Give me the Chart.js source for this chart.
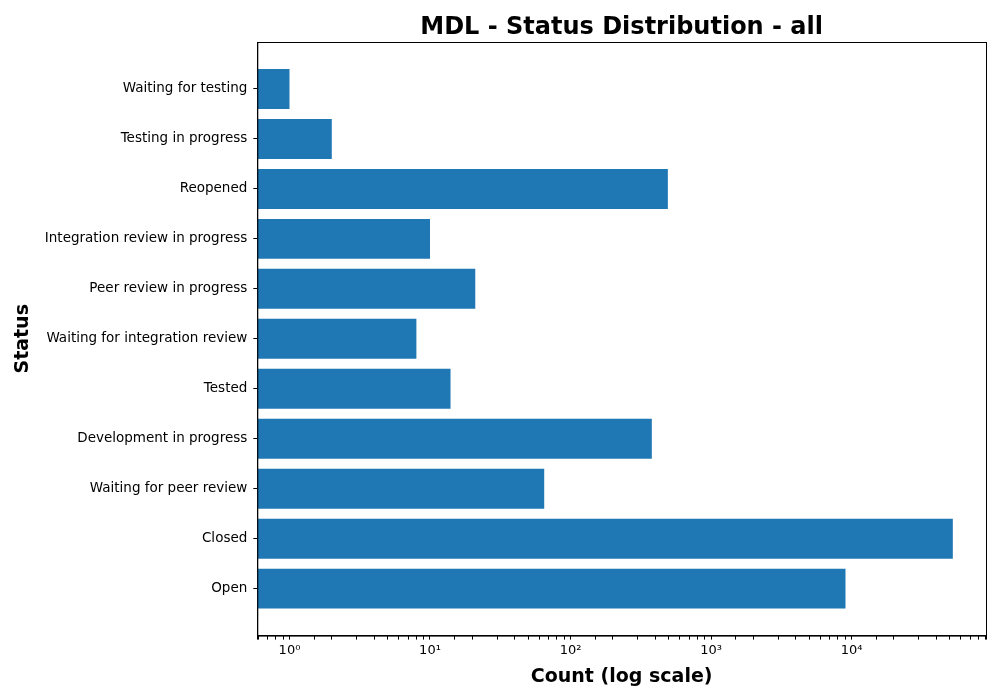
<!DOCTYPE html>
<html lang="en">
<head>
    <meta charset="UTF-8">
    <title>MDL - Status Distribution - all</title>
    <script src="https://cdn.jsdelivr.net/npm/chart.js"></script>
    <style>
        body { margin: 0; background: #fff; }
        #wrap { width: 1000px; height: 700px; }
    </style>
</head>
<body>
    <div id="wrap"><canvas id="statusChart"></canvas></div>

    <script>
        const statuses = ["Waiting for testing", "Testing in progress", "Reopened",
            "Integration review in progress", "Peer review in progress",
            "Waiting for integration review", "Tested", "Development in progress",
            "Waiting for peer review", "Closed", "Open"];
        const counts = [1, 2, 493, 10, 21, 8, 14, 379, 65, 52600, 9060];
        const sup = { "0": "⁰", "1": "¹", "2": "²", "3": "³", "4": "⁴" };
        const chartTitle = "MDL - Status Distribution - all";

        // box round the plot area and the title centred over it, like matplotlib
        const frame = {
            id: "frame",
            afterDraw(chart) {
                let a = chart.chartArea, ctx = chart.ctx;
                ctx.save();
                ctx.strokeStyle = "#000";
                ctx.lineWidth = 1;
                ctx.strokeRect(a.left + 0.5, a.top + 0.5, a.right - a.left, a.bottom - a.top);
                ctx.fillStyle = "#000";
                ctx.font = "bold 24px 'DejaVu Sans'";
                ctx.textAlign = "center";
                ctx.textBaseline = "alphabetic";
                ctx.fillText(chartTitle, (a.left + a.right) / 2, a.top - 8);
                ctx.restore();
            }
        };

        new Chart(document.getElementById("statusChart"), {
            type: "bar",
            data: {
                datasets: [{
                    data: counts.map((c, i) => ({ x: c, y: i })),
                    backgroundColor: "#1f77b4",
                    borderWidth: 0,
                    barPercentage: 0.8,
                    categoryPercentage: 1
                }]
            },
            options: {
                indexAxis: "y",
                responsive: true,
                maintainAspectRatio: false,
                animation: false,
                layout: { padding: { left: 12, right: 14, top: 42, bottom: 12 } },
                plugins: {
                    legend: { display: false },
                    tooltip: { enabled: false },
                    title: { display: false }
                },
                scales: {
                    x: {
                        type: "logarithmic",
                        min: 0.59,
                        max: 90600,
                        grid: { drawOnChartArea: false, color: "#000", tickLength: 4 },
                        border: { color: "#000" },
                        ticks: {
                            color: "#000",
                            autoSkip: false,
                            maxRotation: 0,
                            font: { family: "DejaVu Sans", size: 13 },
                            callback: function (v) {
                                let e = Math.log10(v);
                                if (Math.abs(e - Math.round(e)) < 1e-9) return "10" + sup[String(Math.round(e))];
                                return "";
                            }
                        },
                        title: {
                            display: true,
                            text: "Count (log scale)",
                            color: "#000",
                            font: { family: "DejaVu Sans", size: 19, weight: "bold" },
                            padding: { top: 4, bottom: 0 }
                        }
                    },
                    y: {
                        type: "linear",
                        reverse: true,
                        offset: false,
                        min: -0.94,
                        max: 10.94,
                        grid: { drawOnChartArea: false, color: "#000", tickLength: 4, offset: false },
                        border: { color: "#000" },
                        afterBuildTicks: function (scale) {
                            scale.ticks = statuses.map((s, i) => ({ value: i }));
                        },
                        ticks: {
                            color: "#000",
                            autoSkip: false,
                            padding: 6,
                            font: { family: "DejaVu Sans", size: 13.5 },
                            callback: function (v) { return statuses[v] || ""; }
                        },
                        title: {
                            display: true,
                            text: "Status",
                            color: "#000",
                            font: { family: "DejaVu Sans", size: 19, weight: "bold" },
                            padding: { top: 0, bottom: 4 }
                        }
                    }
                }
            },
            plugins: [frame]
        });
    </script>
</body>
</html>
